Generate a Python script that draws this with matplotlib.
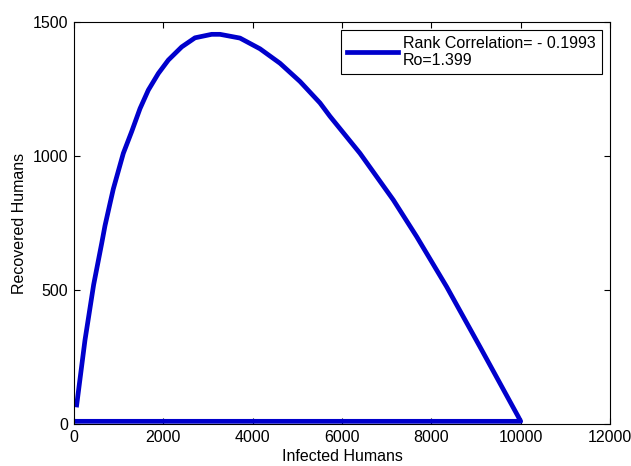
import matplotlib
matplotlib.use("Agg")
from matplotlib import pyplot as plt

# curve (infected, recovered), closed along the bottom
infected = [60, 246, 440, 620, 694, 806, 880, 1104, 1291, 1478, 1664, 1888,
            2112, 2411, 2709, 3082, 3269, 3716, 4164, 4612, 5060, 5507, 5731,
            6403, 7149, 7672, 8343, 9089, 9947, 10000, 0]
recovered = [71, 313, 520, 674, 740, 823, 877, 1010, 1091, 1177, 1246, 1308,
             1358, 1407, 1441, 1454, 1454, 1440, 1400, 1346, 1278, 1198, 1148,
             1010, 836, 699, 512, 288, 27, 10, 10]

xticks = [0, 2000, 4000, 6000, 8000, 10000, 12000]
yticks = [0, 500, 1000, 1500]

plt.rcParams['font.family'] = ['Liberation Sans', 'DejaVu Sans']
plt.rcParams['font.size'] = 11.5

fig = plt.figure(figsize=(6.31, 4.66), dpi=100)
ax = fig.add_axes([74/631, 42/466, 536/631, 402/466])

ax.plot(infected, recovered, color='#0000cc', linewidth=3.4,
        solid_joinstyle='round', label="Rank Correlation= - 0.1993\nRo=1.399")

ax.set_xlim(0, 12000)
ax.set_ylim(0, 1500)
ax.set_xticks(xticks)
ax.set_yticks(yticks)
ax.tick_params(direction='in', length=4, width=0.8, top=True, right=True, pad=4)
for s in ax.spines.values():
    s.set_linewidth(0.8)

ax.set_xlabel("Infected Humans", fontsize=11.5, labelpad=3)
ax.set_ylabel("Recovered Humans", fontsize=11.5, labelpad=4)

leg = ax.legend(loc='upper right', fancybox=False, framealpha=1,
                edgecolor='black', handlelength=3.2, borderaxespad=0.5,
                handletextpad=0.3, borderpad=0.4, fontsize=11.5)
leg.get_frame().set_linewidth(0.8)
for t in leg.get_texts():
    t.set_linespacing(1.1)

fig.savefig("out.png", dpi=100)
